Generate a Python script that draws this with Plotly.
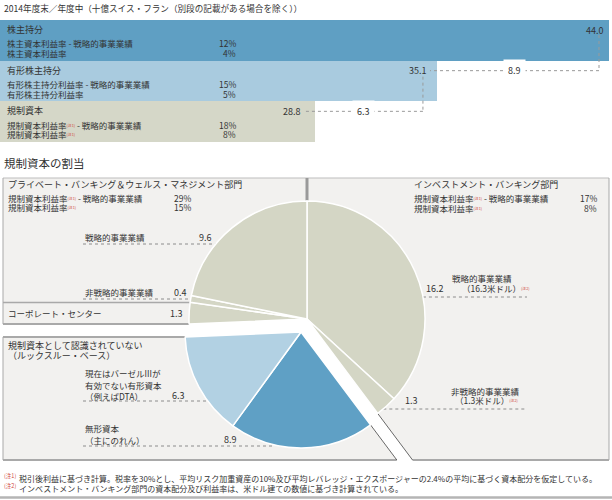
import math
import plotly.graph_objects as go

W, H = 612, 500
FONT = "Noto Sans CJK JP"
TXT = "#333333"
NOTE_RED = "#d0463c"

# ---------------- data ----------------
title_text = "2014年度末／年度中（十億スイス・フラン（別段の記載がある場合を除く））"
bar_names = ["株主持分", "有形株主持分", "規制資本"]
bar_values = [44.0, 35.1, 28.8]
ratio_strategic_names = ["株主資本利益率", "有形株主持分利益率", "規制資本利益率"]
ratio_note = [False, False, True]
ratio_strategic = [12, 15, 18]
ratio_total = [4, 5, 8]
bar_colors = ["#5f9fc3", "#a9cbdf", "#d5d7c8"]

section_title = "規制資本の割当"
pie_labels = ["IB 戦略的事業業績", "IB 非戦略的事業業績", "無形資本", "有形資本（DTA等）",
              "コーポレート・センター", "PBWM 非戦略的事業業績", "PBWM 戦略的事業業績"]
pie_values = [16.2, 1.3, 8.9, 6.3, 1.3, 0.4, 9.6]
pie_recognised = [True, True, False, False, True, True, True]
pie_color_gray = "#d4d6c5"
pie_colors_blue = {"無形資本": "#5fa0c5", "有形資本（DTA等）": "#b2d1e3"}

pbwm_title = "プライベート・バンキング＆ウェルス・マネジメント部門"
pbwm_ratios = [29, 15]
ib_title = "インベストメント・バンキング部門"
ib_ratios = [17, 8]
ib_usd = [16.3, 1.3]
footnotes = ["税引後利益に基づき計算。税率を30%とし、平均リスク加重資産の10%及び平均レバレッジ・エクスポージャーの2.4%の平均に基づく資本配分を仮定している。",
             "インベストメント・バンキング部門の資本配分及び利益率は、米ドル建ての数値に基づき計算されている。"]

# ---------------- helpers ----------------
def fx(x):
    return x / W

def fy(y):
    return 1 - y / H

def note(n):
    return f"<span style='font-size:5.5px;color:{NOTE_RED}'><sup>(注{n})</sup></span>"

annotations = []
shapes = []

def txt(x, y, text, size=8.5, xanchor="left", color=TXT, bg=None, pad=1):
    a = dict(x=fx(x), y=fy(y), xref="paper", yref="paper", text=text, showarrow=False,
             xanchor=xanchor, yanchor="middle", font=dict(family=FONT, size=size, color=color),
             borderpad=pad)
    if bg:
        a["bgcolor"] = bg
    annotations.append(a)

def line(x0, y0, x1, y1, color="#a8a8a8", width=1, dash=None, layer="below"):
    s = dict(type="line", xref="paper", yref="paper", x0=fx(x0), y0=fy(y0), x1=fx(x1), y1=fy(y1),
             line=dict(color=color, width=width), layer=layer)
    if dash:
        s["line"]["dash"] = dash
    shapes.append(s)

def poly(points, fill):
    p = "M " + " L ".join(f"{fx(x):.5f},{fy(y):.5f}" for x, y in points) + " Z"
    shapes.append(dict(type="path", xref="paper", yref="paper", path=p, fillcolor=fill,
                       line=dict(width=0), layer="below"))

# ---------------- top bars ----------------
X_DOM_END = 609
X_RANGE = [12.5, 44.0]
Y_TOP, Y_BOT = 20, 142

def bar_px(v):
    return X_DOM_END * (v - X_RANGE[0]) / (X_RANGE[1] - X_RANGE[0])

fig = go.Figure()
fig.add_trace(go.Bar(
    y=list(range(len(bar_values))), x=bar_values, base=0, orientation="h",
    marker=dict(color=bar_colors, line=dict(width=0)), width=1,
    hoverinfo="skip", showlegend=False, xaxis="x", yaxis="y"))

row_h = (Y_BOT - Y_TOP) / len(bar_values)
for i, name in enumerate(bar_names):
    top = Y_TOP + i * row_h
    txt(5, top + 9.5, name, size=9)
    n1 = note(1) if ratio_note[i] else ""
    txt(5, top + 23.5, f"{ratio_strategic_names[i]}{n1} - 戦略的事業業績", size=8.5)
    txt(5, top + 33, f"{ratio_strategic_names[i]}{n1}", size=8.5)
    txt(238, top + 23.5, f"{ratio_strategic[i]}%", size=8.5, xanchor="right")
    txt(238, top + 33, f"{ratio_total[i]}%", size=8.5, xanchor="right")

# value labels & connectors
e0, e1, e2 = (bar_px(v) for v in bar_values)
ylab = [Y_TOP + 10, Y_TOP + row_h + 10, Y_TOP + 2 * row_h + 10]
txt(e0 - 3, ylab[0], f"{bar_values[0]:.1f}", size=9, xanchor="right")
txt(e1 - 8, ylab[1], f"{bar_values[1]:.1f}", size=9, xanchor="right")
txt(e2 - 12, ylab[2], f"{bar_values[2]:.1f}", size=9, xanchor="right")
DOT = "#9a9a9a"
line(e0 - 10, ylab[0] + 5, e0 - 10, ylab[1], DOT, 1, "dot", "above")
line(e0 - 10, ylab[1], e1 - 7, ylab[1], DOT, 1, "dot", "above")
line(e1 - 14, ylab[1] + 6, e1 - 14, ylab[2], DOT, 1, "dot", "above")
line(e1 - 14, ylab[2], e2 - 11, ylab[2], DOT, 1, "dot", "above")
txt((e0 - 10 + e1 - 7) / 2, ylab[1], f"{bar_values[0] - bar_values[1]:.1f}", size=9, bg="#ffffff",
    xanchor="center", pad=4)
txt((e1 - 14 + e2 - 11) / 2, ylab[2], f"{bar_values[1] - bar_values[2]:.1f}", size=9, bg="#ffffff",
    xanchor="center", pad=4)

txt(2, 8, title_text, size=8.6)
txt(2, 163, section_title, size=11.5)

# ---------------- pie geometry ----------------
C = (307.0, 319.0); R1 = 118.0
C2 = (301.0, 332.0); R2 = 116.0
total = sum(pie_values)
cum = 0.0
bounds = []
for v in pie_values:
    cum += v
    bounds.append(360.0 * cum / total)
a1 = math.radians(bounds[1])   # gray -> blue boundary
a2 = math.radians(bounds[3])   # blue -> gray boundary
d1 = (math.sin(a1), -math.cos(a1))
d2 = (math.sin(a2), -math.cos(a2))

def along(c, d, y_target):
    t = (y_target - c[1]) / d[1]
    return (c[0] + t * d[0], y_target)

def rim(c, r, d):
    return (c[0] + r * d[0], c[1] + r * d[1])

def rim_x(c, r, y, side):
    dx = math.sqrt(max(r * r - (y - c[1]) ** 2, 0))
    return c[0] + side * dx

PANEL = "#f2f1ef"
BORDER = "#a9a9a9"
L, RR, TOP, BOT = 3, 609, 178, 460
rim1 = rim(C, R1, d2)
rim2 = rim(C2, R2, d2)
p1g = along(C, d1, BOT)
p1b = along(C2, d1, BOT)
poly([(L, TOP), (C[0], TOP), C, rim1, (L, rim1[1])], PANEL)
poly([(C[0], TOP), (RR, TOP), (RR, BOT), p1g, C], PANEL)
poly([(L, rim2[1]), rim2, C2, p1b, (L, BOT)], PANEL)

# borders
line(L, TOP, RR, TOP, "#bdbdbd", 1)
line(L, TOP, L, rim1[1], BORDER, 1)
line(RR, TOP, RR, BOT, BORDER, 1)
line(L, rim2[1], L, BOT, BORDER, 1)
line(L, BOT, p1b[0], BOT, BORDER, 2)
line(p1g[0], BOT, RR, BOT, BORDER, 2)
line(*rim(C, R1, d1), *p1g, "#444444", 0.8)
line(*rim(C2, R2, d1), *p1b, "#444444", 0.8)
line(C[0], TOP, C[0], C[1] - R1 + 1, "#9a9a9a", 3)
y_sep = 302.5
line(L, y_sep, rim_x(C, R1, y_sep, -1), y_sep, BORDER, 1.5)
line(L, rim1[1], rim1[0], rim1[1], BORDER, 2)
line(L, rim2[1], rim2[0], rim2[1], BORDER, 2)

# pie traces (recognised capital in place, non-recognised pulled out together)
gray_cols = [pie_color_gray if r else "rgba(0,0,0,0)" for r in pie_recognised]
gray_lw = [1.5 if r else 0 for r in pie_recognised]
blue_cols = ["rgba(0,0,0,0)" if r else pie_colors_blue[l] for l, r in zip(pie_labels, pie_recognised)]
blue_lw = [0 if r else 1.5 for r in pie_recognised]
line_cols = ["#ffffff"] * len(pie_values)

def dom(c, r):
    return dict(x=[fx(c[0] - r), fx(c[0] + r)], y=[fy(c[1] + r), fy(c[1] - r)])

fig.add_trace(go.Pie(labels=pie_labels, values=pie_values, sort=False, direction="clockwise",
                     rotation=0, textinfo="none", hoverinfo="skip", showlegend=False,
                     marker=dict(colors=gray_cols, line=dict(color=line_cols, width=gray_lw)),
                     domain=dom(C, R1)))
fig.add_trace(go.Pie(labels=pie_labels, values=pie_values, sort=False, direction="clockwise",
                     rotation=0, textinfo="none", hoverinfo="skip", showlegend=False,
                     marker=dict(colors=blue_cols, line=dict(color=line_cols, width=blue_lw)),
                     domain=dom(C2, R2)))

# ---------------- panel texts ----------------
fmt = lambda v: f"{v:.1f}"
LDOT = "#8c8c8c"
# PBWM
txt(6, 184, pbwm_title, size=9)
txt(6, 197.5, f"規制資本利益率{note(1)} - 戦略的事業業績", size=8.5)
txt(6, 206.5, f"規制資本利益率{note(1)}", size=8.5)
txt(193, 197.5, f"{pbwm_ratios[0]}%", size=8.5, xanchor="right")
txt(193, 206.5, f"{pbwm_ratios[1]}%", size=8.5, xanchor="right")
txt(83, 237, "戦略的事業業績", size=8.5)
txt(214, 237, fmt(pie_values[6]), size=9, xanchor="right")
line(83, 244, rim_x(C, R1, 244, -1), 244, LDOT, 1, "dot")
txt(83, 292, "非戦略的事業業績", size=8.5)
txt(189, 292, fmt(pie_values[5]), size=9, xanchor="right")
line(83, 299, rim_x(C, R1, 299, -1), 299, LDOT, 1, "dot")
txt(6, 313, "コーポレート・センター", size=8.5)
txt(185, 313, fmt(pie_values[4]), size=9, xanchor="right")

# IB
txt(412, 184, ib_title, size=9)
txt(412, 198, f"規制資本利益率{note(1)} - 戦略的事業業績", size=8.5)
txt(412, 207.5, f"規制資本利益率{note(1)}", size=8.5)
txt(599, 198, f"{ib_ratios[0]}%", size=8.5, xanchor="right")
txt(599, 207.5, f"{ib_ratios[1]}%", size=8.5, xanchor="right")
txt(424, 288, fmt(pie_values[0]), size=9)
txt(482, 278, "戦略的事業業績", size=8.5, xanchor="center")
txt(496, 288, f"（{ib_usd[0]:.1f}米ドル）{note(2)}", size=8.5, xanchor="center")
line(rim_x(C, R1, 297, 1), 297, 527, 297, LDOT, 1, "dot")
txt(403, 400, fmt(pie_values[1]), size=9)
txt(485, 390.5, "非戦略的事業業績", size=8.5, xanchor="center")
txt(487, 400, f"（{ib_usd[1]:.1f}米ドル）{note(2)}", size=8.5, xanchor="center")
line(rim_x(C, R1, 409, 1), 409, 527, 409, LDOT, 1, "dot")

# not recognised
txt(6, 345.5, "規制資本として認識されていない", size=9)
txt(6, 355.5, "（ルックスルー・ベース）", size=9)
txt(83, 373, "現在はバーゼルIIIが", size=8.5)
txt(83, 385, "有効でない有形資本", size=8.5)
txt(83, 395.5, "（例えばDTA）", size=8.5)
txt(187, 395.5, fmt(pie_values[3]), size=9, xanchor="right")
line(83, 401, rim_x(C2, R2, 401, -1), 401, LDOT, 1, "dot")
txt(83, 428, "無形資本", size=8.5)
txt(83, 439.5, "（主にのれん）", size=8.5)
txt(239, 439.5, fmt(pie_values[2]), size=9, xanchor="right")
line(83, 446, rim_x(C2, R2, 446, -1) - 6, 446, LDOT, 1, "dot")

# ---------------- footnotes ----------------
for i, fn in enumerate(footnotes):
    yy = 478.5 + i * 10
    txt(2, yy - 3, f"<span style='color:{NOTE_RED}'>(注{i + 1})</span>", size=5.5)
    txt(17, yy, fn, size=8.0)
line(0, 497.5, W, 497.5, "#b5b5b5", 2.5)

fig.update_layout(
    width=W, height=H, margin=dict(l=0, r=0, t=0, b=0),
    paper_bgcolor="#ffffff", plot_bgcolor="rgba(0,0,0,0)",
    bargap=0, hovermode=False, showlegend=False,
    xaxis=dict(domain=[0, X_DOM_END / W], range=X_RANGE, visible=False, fixedrange=True),
    yaxis=dict(domain=[fy(Y_BOT), fy(Y_TOP)], range=[len(bar_values) - 0.5, -0.5],
               visible=False, fixedrange=True),
    annotations=annotations, shapes=shapes,
)

fig.write_html("out.html", config={"displayModeBar": False},
               post_script="document.body.style.margin='0';document.body.style.padding='0';"
                           "document.body.style.overflow='hidden';")
